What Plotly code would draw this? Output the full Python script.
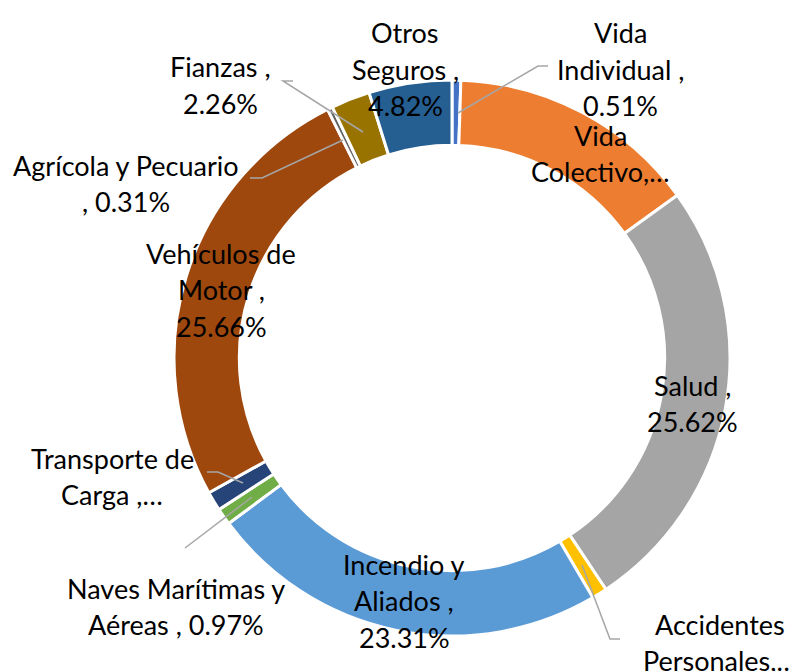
import plotly.graph_objects as go

# Data
categories = ["Vida Individual", "Vida Colectivo", "Salud", "Accidentes Personales",
              "Incendio y Aliados", "Naves Marítimas y Aéreas", "Transporte de Carga",
              "Vehículos de Motor", "Agrícola y Pecuario", "Fianzas", "Otros Seguros"]
values = [0.51, 14.53, 25.62, 0.88, 23.31, 0.97, 1.13, 25.66, 0.31, 2.26, 4.82]
colors = ["#4472C4", "#ED7D31", "#A5A5A5", "#FFC000", "#5B9BD5", "#70AD47",
          "#264478", "#9E480E", "#636363", "#997300", "#255E91"]

# label lines as displayed in the chart (some truncated by the original)
label_lines = {
    "Vida Individual": ["Vida", "Individual ,", "0.51%"],
    "Vida Colectivo": ["Vida", "Colectivo,…"],
    "Salud": ["Salud ,", "25.62%"],
    "Accidentes Personales": ["Accidentes", "Personales,…"],
    "Incendio y Aliados": ["Incendio y", "Aliados ,", "23.31%"],
    "Naves Marítimas y Aéreas": ["Naves Marítimas y", "Aéreas , 0.97%"],
    "Transporte de Carga": ["Transporte de", "Carga ,…"],
    "Vehículos de Motor": ["Vehículos de", "Motor ,", "25.66%"],
    "Agrícola y Pecuario": ["Agrícola y Pecuario", ", 0.31%"],
    "Fianzas": ["Fianzas ,", "2.26%"],
    "Otros Seguros": ["Otros", "Seguros ,", "4.82%"],
}
# layout: label centre x and first-line y (pixels), line pitch
label_pos = {
    "Vida Individual": (620, 31),
    "Vida Colectivo": (600, 133),
    "Salud": (692, 383),
    "Accidentes Personales": (720, 622),
    "Incendio y Aliados": (404, 562),
    "Naves Marítimas y Aéreas": (176, 586),
    "Transporte de Carga": (112, 456),
    "Vehículos de Motor": (221, 251),
    "Agrícola y Pecuario": (126, 163),
    "Fianzas": (220, 65),
    "Otros Seguros": (405, 31),
}
PITCH = 36.5
leaders = [
    [(458, 113), (538, 66), (548, 66)],
    [(293, 81), (283, 81), (363, 132)],
    [(250, 178), (262, 178), (343, 140)],
    [(207, 472), (218, 472), (243, 483)],
    [(185, 548), (252, 497)],
    [(620, 639), (610, 639), (582, 565)],
]

W, H = 798, 671
OFF = 8  # page body margin
def px(x):
    return (x - OFF) / W
def py(y):
    return 1 - (y - OFF) / H

cx, cy, R = 452, 358, 278

fig = go.Figure(go.Pie(
    labels=categories, values=values, sort=False, direction="clockwise",
    rotation=0, hole=0.765,
    marker=dict(colors=colors, line=dict(color="white", width=3)),
    textinfo="none", hoverinfo="label+percent", showlegend=False,
    domain=dict(x=[px(cx - R), px(cx + R)], y=[py(cy + R), py(cy - R)]),
))

for pts in leaders:
    path = "M " + " L ".join(f"{px(x)},{py(y)}" for x, y in pts)
    fig.add_shape(type="path", path=path, xref="paper", yref="paper",
                  line=dict(color="#A6A6A6", width=1.5))

for cat in categories:
    x, y0 = label_pos[cat]
    for i, line in enumerate(label_lines[cat]):
        fig.add_annotation(text=line, x=px(x), y=py(y0 + i * PITCH + 2),
                           xref="paper", yref="paper",
                           showarrow=False, xanchor="center", yanchor="middle",
                           font=dict(family="Lato", size=27, color="black"))

fig.update_layout(width=W, height=H, margin=dict(l=0, r=0, t=0, b=0),
                  paper_bgcolor="white", plot_bgcolor="white")
fig.write_html("out.html")
